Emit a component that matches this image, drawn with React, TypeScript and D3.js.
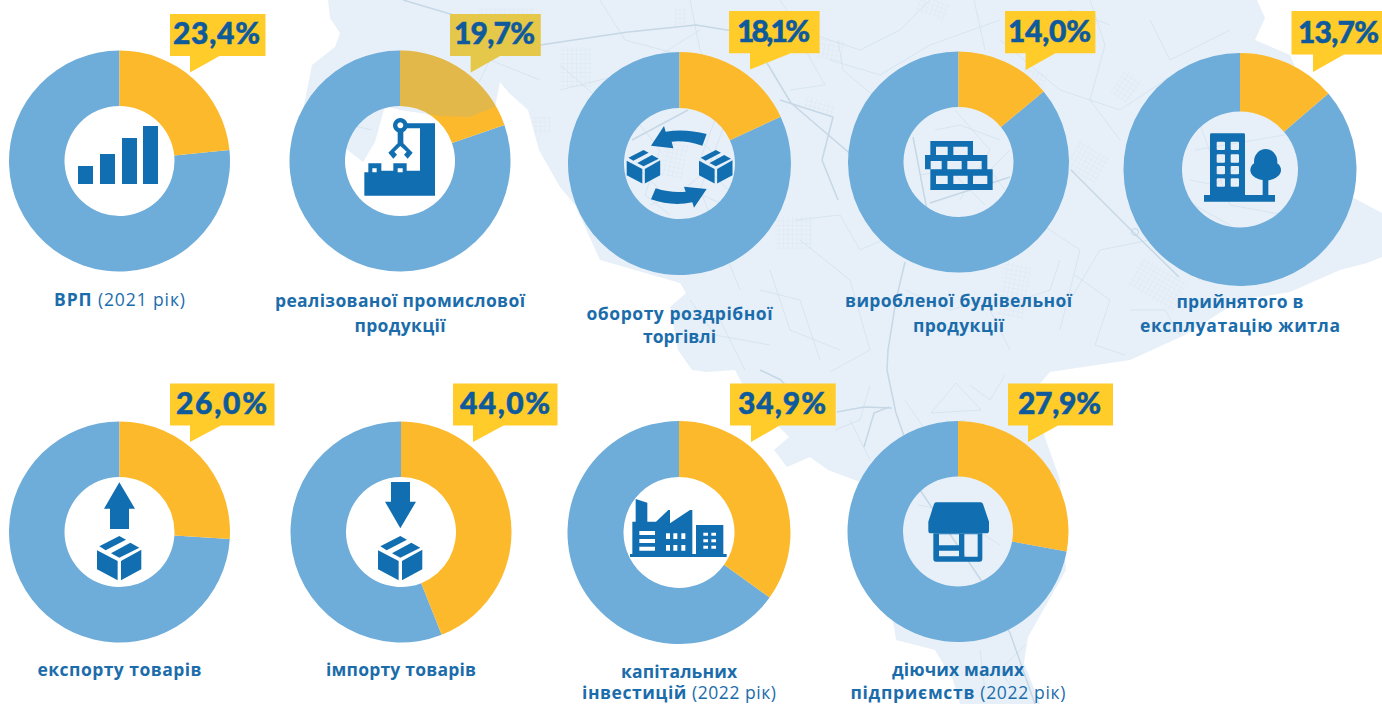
import React from "react";
import * as d3 from "d3";

// ---------- data ----------
const sharePercent = [23.4, 19.7, 18.1, 14.0, 13.7, 26.0, 44.0, 34.9, 27.9];
const labelLines = [
  ["ВРП (2021 рік)"],
  ["реалізованої промислової", "продукції"],
  ["обороту роздрібної", "торгівлі"],
  ["виробленої будівельної", "продукції"],
  ["прийнятого в", "експлуатацію житла"],
  ["експорту товарів"],
  ["імпорту товарів"],
  ["капітальних", "інвестицій (2022 рік)"],
  ["діючих малих", "підприємств (2022 рік)"],
];

// ---------- layout ----------
type P = { cx: number; cy: number; r: number; r0: number; box: number[]; tail: number[]; tx: number; tw: number; tb: number; lb: number[]; lw: number[] };
const panels: P[] = [
  { cx: 119.5, cy: 161, r: 110.5, r0: 55, box: [170, 14, 265.5, 56], tail: [190, 219.5, 72.5], tx: 216.5, tw: 87, tb: 44, lb: [306], lw: [131] },
  { cx: 400, cy: 161, r: 110.5, r0: 55, box: [450, 14, 540.7, 56], tail: [470.7, 500, 72.5], tx: 494.5, tw: 81, tb: 44, lb: [306.5, 331.5], lw: [250, 91] },
  { cx: 679.5, cy: 163.5, r: 111.5, r0: 55.5, box: [729, 11, 819.6, 53.3], tail: [750, 790.7, 69.5], tx: 773.5, tw: 73, tb: 42, lb: [320, 343], lw: [186, 73] },
  { cx: 958.5, cy: 162, r: 110.5, r0: 55, box: [1005, 11, 1095.4, 53.3], tail: [1025.6, 1055.5, 70], tx: 1049.5, tw: 83, tb: 42, lb: [306.5, 331.5], lw: [227, 91] },
  { cx: 1240, cy: 169.5, r: 116.5, r0: 58, box: [1291.5, 11, 1382, 54.5], tail: [1313, 1344, 72], tx: 1338.5, tw: 81, tb: 43, lb: [308, 332], lw: [127, 200] },
  { cx: 119.5, cy: 532, r: 110.5, r0: 55, box: [170, 383.5, 274.5, 425.5], tail: [190, 221, 442], tx: 221.5, tw: 91, tb: 414, lb: [676], lw: [164] },
  { cx: 401, cy: 532, r: 110.5, r0: 55, box: [453, 383.5, 557.5, 425.5], tail: [473, 503.6, 442], tx: 505, tw: 90, tb: 414, lb: [676], lw: [150] },
  { cx: 679, cy: 532.5, r: 111.5, r0: 55.5, box: [730, 383.5, 835.7, 425.5], tail: [751, 779.6, 442], tx: 782, tw: 88, tb: 414, lb: [678, 699], lw: [116, 194] },
  { cx: 958, cy: 531.5, r: 110.5, r0: 55, box: [1008, 383.5, 1113, 425.5], tail: [1028, 1058, 442], tx: 1059.5, tw: 83, tb: 414, lb: [676, 699], lw: [132, 215] },
];

const mapOutline: [number, number][] = [
  [328, 0], [1257, 0], [1265, 18], [1255, 40], [1290, 55], [1352, 197], [1382, 213], [1382, 257], [1367, 263], [1340, 270],
  [1290, 292], [1240, 300], [1185, 335], [1130, 360], [1050, 372], [1030, 395], [1060, 480], [1066, 570], [1028, 637], [1024, 663],
  [1040, 704], [960, 704], [953, 680], [935, 650], [896, 640], [894, 627], [860, 482], [828, 470], [810, 457], [787, 467],
  [774, 450], [789, 437], [748, 395], [735, 370], [706, 372], [692, 370], [678, 350], [670, 307], [686, 293], [680, 283],
  [600, 260], [575, 205], [560, 187], [539, 150], [528, 110], [509, 93], [500, 82], [495, 107], [470, 117], [440, 116],
  [400, 110], [385, 106], [375, 142], [363, 162], [345, 148], [300, 125], [308, 85], [312, 65], [335, 47], [340, 33], [330, 18],
];
const majorRoads: [number, number][][] = [
  [[403, 0], [464, 18], [540, 45], [628, 32], [696, 25], [770, 37]],
  [[905, 262], [896, 300], [888, 350], [887, 370], [896, 413], [903, 433], [920, 490], [981, 580], [1010, 633], [1035, 704]],
  [[1071, 170], [1134, 233], [1179, 277]],
  [[780, 100], [833, 117], [822, 160], [838, 200]],
  [[767, 63], [791, 103], [854, 157]],
  [[837, 412], [864, 407], [892, 408]],
  [[864, 447], [874, 413], [889, 407]],
  [[760, 370], [781, 380], [789, 390]],
  [[913, 137], [927, 210]],
  [[930, 203], [1010, 177]],
  [[632, 140], [688, 110]],
];
const minorRoads: [number, number][][] = [
  [[838, 40], [843, 70], [875, 97]],
  [[974, 0], [985, 50]],
  [[931, 413], [956, 383], [981, 410], [931, 413]],
  [[560, 90], [620, 75], [660, 55], [700, 30]],
  [[600, 0], [625, 40], [700, 60], [770, 110]],
  [[690, 0], [700, 50], [730, 110], [700, 190], [740, 290]],
  [[1000, 40], [1060, 90], [1120, 110], [1180, 70]],
  [[1070, 300], [1100, 250], [1150, 240], [1200, 280]],
  [[800, 240], [850, 280], [870, 350], [830, 372]],
  [[720, 320], [745, 370]],
  [[770, 270], [790, 330], [840, 350]],
  [[1020, 210], [1080, 250], [1060, 330]],
  [[640, 170], [670, 200], [720, 160], [690, 130]],
  [[955, 110], [990, 150], [960, 200]],
  [[1010, 150], [990, 170], [1005, 190]],
  [[1190, 180], [1215, 185], [1240, 165]],
  [[1185, 200], [1230, 225]],
  [[850, 420], [870, 460]],
  [[350, 125], [372, 130]],
  [[410, 60], [470, 100], [490, 60], [540, 80]],
  [[430, 90], [480, 110], [440, 60]],
  [[780, 0], [800, 30], [860, 50], [900, 30], [930, 0]],
  [[830, 60], [880, 75], [930, 45], [1000, 20]],
  [[1090, 0], [1105, 45], [1090, 100], [1120, 140]],
  [[1150, 20], [1170, 60], [1230, 30]],
  [[795, 220], [840, 215], [860, 250], [905, 230]],
  [[1075, 275], [1110, 300], [1095, 345], [1125, 355]],
  [[760, 290], [800, 300], [820, 360]],
  [[905, 290], [950, 310], [985, 300], [1010, 350]],
  [[1130, 310], [1165, 310], [1180, 335]],
  [[1020, 300], [1050, 290], [1060, 260]],
  [[640, 125], [660, 150], [645, 195], [670, 215]],
  [[715, 120], [700, 160], [728, 190]],
  [[650, 205], [690, 190], [725, 205]],
  [[935, 130], [960, 125], [1000, 140]],
  [[920, 175], [950, 170], [985, 205]],
  [[1195, 150], [1285, 135]],
  [[1200, 125], [1230, 205], [1285, 215]],
  [[1040, 30], [1070, 10], [1110, 25]],
  [[560, 65], [600, 100], [575, 130]],
  [[800, 40], [825, 85], [790, 90]],
  [[860, 140], [900, 115]],
  [[870, 385], [860, 420], [835, 430]],
  [[905, 400], [925, 430], [965, 420]],
  [[970, 385], [990, 400], [1005, 375]],
  [[918, 505], [945, 510], [1000, 545]],
  [[1025, 645], [1000, 670], [1020, 700]],
  [[980, 650], [985, 690]],
  [[690, 300], [715, 335], [770, 345]],
];
const gridPatches = [
  [917, 0, 31, 17, 20], [1116, 73, 21, 27, 35], [1069, 147, 36, 30, 30], [1131, 267, 53, 33, 30], [1000, 263, 27, 54, 10],
  [775, 217, 37, 33, 0], [817, 40, 26, 20, 10], [675, 7, 11, 20, 0], [478, 7, 57, 26, 0], [532, 117, 18, 16, 0],
  [662, 143, 23, 34, 12], [560, 47, 31, 40, 0], [805, 100, 30, 12, 15], [1020, 70, 25, 20, 20],
];
const mapShape = d3.line()(mapOutline)! + "Z";

// ---------- colours ----------
const ORANGE = "#FDB92C", RING = "#6EACD9", ICON = "#116EB0", CALLOUT = "#FFCC29", MAP = "#E7F0F8";
const LABEL = "#1B6CAB", PCT = "#0E5A9C", ROAD = "#D3E1EE", ROAD2 = "#C6D7E6";

const pieGen = d3.pie<number>().sort(null).value((d) => d);

// ---------- icons, in 3x crop pixels ----------
const Icon = ({ x, y, s = 1 / 3, children }: any) => (
  <g transform={`translate(${x},${y}) scale(${s})`} fill={ICON} fillRule="evenodd" stroke="none">{children}</g>
);
const rects = (list: number[][]) => list.map(([x, y, w, h]) => `M${x} ${y}h${w}v${h}h${-w}Z`).join("");
const Box = ({ x, y, size }: { x: number; y: number; size: number }) => (
  <Icon x={x} y={y} s={size / 133}>
    <path d="M7 31L67 0L87 11L26 43Z" />
    <path d="M42 52L100 20L127 35L67 65Z" />
    <path d="M0 43L62 75V133L0 100Z" />
    <path d="M72 75L133 41V100L72 133Z" />
  </Icon>
);
const icons: React.ReactNode[] = [
  <Icon x={60} y={100} key="0">
    <path d={rects([[54, 198, 45, 54], [120, 162, 45, 90], [186, 114, 45, 138], [249, 78, 45, 174]])} />
  </Icon>,
  <Icon x={340} y={100} key="1">
    <path d="M73 217H85V190H124V212H160V190H200V212H240V85H197V70H285V287H73Z M97 205V217H110V205Z M173 205V217H188V205Z" />
    <path d="M181 54a22 22 0 1 0 .01 0Z M181 67a9 9 0 1 1 -.01 0Z" />
    <path d="M173 96H190V130L218 158L203 176L192 164L200 155L181 138L163 155L171 164L160 176L145 158L173 130Z" />
  </Icon>,
  <g key="2">
    <Icon x={615} y={110}>
      <path d="M108 107L147 48L152 65Q210 55 275 72L262 107Q210 90 170 95L175 115Z" />
      <path d="M275 237L237 293L232 277Q170 290 108 268L122 235Q170 250 212 245L207 230Z" />
    </Icon>
    <Box x={626.7} y={150} size={33.5} />
    <Box x={699} y={150} size={33.5} />
  </g>,
  <Icon x={900} y={120} key="3">
    <path d={"M91 63H219V105H262V148H278V210H91V148H75V105H91Z" + rects([[108, 80, 35, 25], [160, 80, 43, 25], [92, 123, 33, 25], [142, 123, 43, 25], [202, 123, 43, 25], [108, 167, 35, 25], [160, 167, 43, 25], [219, 167, 43, 25]])} />
  </Icon>,
  <Icon x={1190} y={120} key="4">
    <path d={"M64 40H161Q165 40 165 44V225H255V245H42V225H60V44Q60 40 64 40Z" + [65, 103, 138, 175].flatMap((wy) => [80, 122].map((wx) => `M${wx + 3} ${wy}h19q3 0 3 3v19q0 3 -3 3h-19q-3 0 -3 -3v-19q0 -3 3 -3Z`)).join("")} />
    <rect x={218} y={170} width={17} height={60} />
    <ellipse cx={227} cy={125} rx={35} ry={38} />
    <ellipse cx={227} cy={150} rx={46} ry={31} />
  </Icon>,
  <g key="5">
    <Icon x={80} y={470}><path d="M118 37L165 116H147V177H90V116H72Z" /></Icon>
    <Box x={97} y={536} size={44.3} />
  </g>,
  <g key="6">
    <Icon x={80} y={470}><path d="M933 36H990V95H1008L961 175L915 95H933Z" /></Icon>
    <Box x={378} y={536} size={44.3} />
  </g>,
  <Icon x={620} y={480} key="7">
    <path d={"M37 222V125H47V57L82 68V125H108L145 90H150V130L210 90H217V222Z" + rects([[58, 153, 47, 12], [58, 177, 47, 12], [58, 200, 47, 12], [138, 160, 12, 17], [160, 160, 12, 17], [184, 160, 12, 17], [138, 195, 12, 17], [160, 195, 12, 17], [184, 195, 12, 17]])} />
    <path d={"M228 135H310V222H228Z" + rects([[250, 158, 14, 9], [274, 158, 14, 9], [250, 178, 14, 9], [274, 178, 14, 9], [250, 197, 14, 9], [274, 197, 14, 9]])} />
    <rect x={30} y={222} width={290} height={9} />
  </Icon>,
  <Icon x={910} y={490} key="8">
    <path d="M78 37H212Q217 37 219 42L237 95V122Q237 130 229 130H63Q55 130 55 122V95L72 42Q74 37 78 37Z" />
    <path d={"M70 130H217V208Q217 215 210 215H77Q70 215 70 208Z" + rects([[163, 133, 40, 67], [87, 133, 60, 33], [87, 182, 60, 17]])} />
  </Icon>,
];

// ---------- pieces ----------
const Roads = ({ opacity = 1 }: { opacity?: number }) => (
  <g fill="none" opacity={opacity} strokeLinejoin="round">
    {gridPatches.map(([x, y, w, h, a], i) => (
      <rect key={i} x={x} y={y} width={w} height={h} fill="url(#blockGrid)" transform={`rotate(${a} ${x + w / 2} ${y + h / 2})`} />
    ))}
    {minorRoads.map((d, i) => <path key={i} d={d3.line()(d)!} stroke={ROAD} strokeWidth={0.8} />)}
    {majorRoads.map((d, i) => <path key={i} d={d3.line()(d)!} stroke={ROAD2} strokeWidth={1.5} />)}
    <circle cx={1135} cy={232} r={3.5} stroke={ROAD2} strokeWidth={1} />
  </g>
);

const LabelLine = ({ text, x, y, width }: { text: string; x: number; y: number; width: number }) => {
  const split = text.indexOf("(");
  const bold = split < 0 ? text : text.slice(0, split);
  const light = split < 0 ? "" : text.slice(split);
  return (
    <text x={x} y={y} textAnchor="middle" textLength={width} lengthAdjust="spacing" fontFamily="'Open Sans'" fontSize={17.5} fontWeight={700} fill={LABEL}>
      {bold}
      {light && <tspan fontWeight={400}>{light}</tspan>}
    </text>
  );
};

export default function App() {
  return (
    <div>
      <style>{`html,body{margin:0;padding:0;overflow:hidden;background:#fff}`}</style>
      <svg width={1382} height={704} viewBox="0 0 1382 704" style={{ display: "block" }}>
        <defs>
          <pattern id="blockGrid" width={4.5} height={4.5} patternUnits="userSpaceOnUse">
            <path d="M4.5 0H0V4.5" fill="none" stroke={ROAD} strokeWidth={0.5} />
          </pattern>
          <clipPath id="mapClip"><path d={mapShape} /></clipPath>
        </defs>
        <rect width={1382} height={704} fill="#fff" />
        <path d={mapShape} fill={MAP} />
        <g clipPath="url(#mapClip)"><Roads /></g>

        {panels.map((p, i) => {
          const arc = d3.arc<d3.PieArcDatum<number>>().innerRadius(p.r0).outerRadius(p.r);
          const slices = pieGen([sharePercent[i], 100 - sharePercent[i]]);
          const [x0, y0, x1, y1] = p.box;
          const [t0, t1, tip] = p.tail;
          const callout = `M${x0} ${y0}H${x1}V${y1}H${t1}L${t0} ${tip}V${y1}H${x0}Z`;
          return (
            <g key={i}>
              <g transform={`translate(${p.cx},${p.cy})`}>
                <path d={arc(slices[1])!} fill={RING} />
                <path d={arc(slices[0])!} fill={ORANGE} />
              </g>
              <path d={callout} fill={CALLOUT} />
              {i === 1 && (
                <g clipPath="url(#mapClip)">
                  <path d={arc(slices[0])!} transform={`translate(${p.cx},${p.cy})`} fill="#8AB4BA" opacity={0.22} />
                  <path d={callout} fill="#8AB4BA" opacity={0.22} />
                </g>
              )}
            </g>
          );
        })}

        {panels.map((p, i) => (
          <g key={i}>
            {icons[i]}
            <text x={p.tx} y={p.tb} textAnchor="middle" textLength={p.tw} lengthAdjust="spacing"
              fontFamily="Lato" fontSize={30} fontWeight={900} fill={PCT} stroke={PCT} strokeWidth={0.5}>
              {sharePercent[i].toFixed(1).replace(".", ",") + "%"}
            </text>
            {labelLines[i].map((line, k) => (
              <LabelLine key={k} text={line} x={p.cx} y={p.lb[k]} width={p.lw[k]} />
            ))}
          </g>
        ))}
      </svg>
    </div>
  );
}
